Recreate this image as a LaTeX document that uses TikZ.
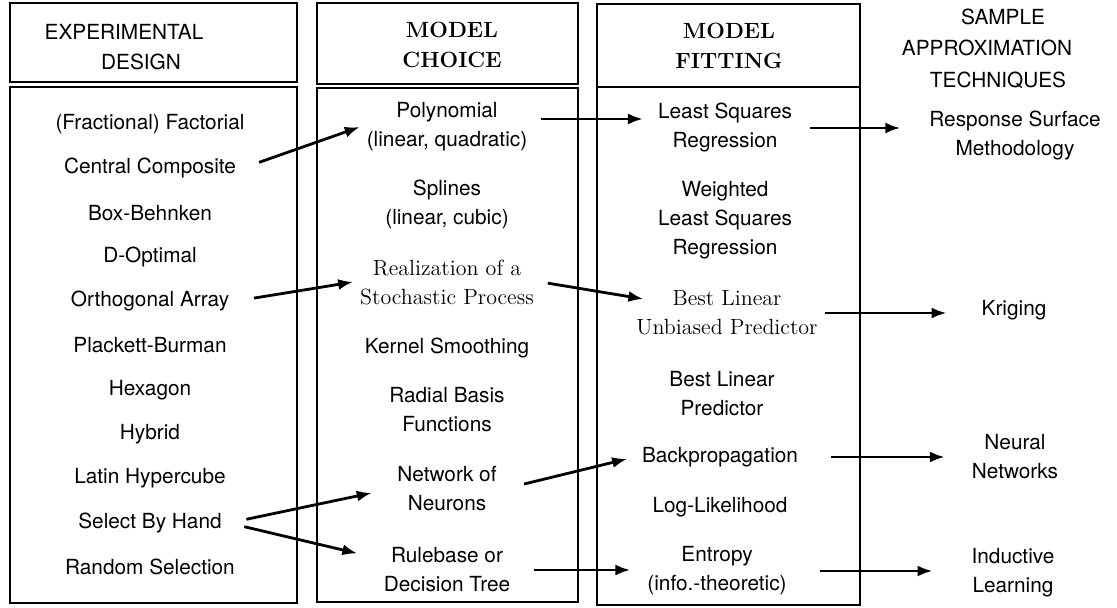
\documentclass[tikz,border=0pt]{standalone}
\usepackage{fontspec}
\setsansfont{TeX Gyre Heros}
\usetikzlibrary{arrows.meta}

\begin{document}
\begin{tikzpicture}[x=0.5pt,y=-0.5pt,
  box/.style={draw,line width=1.2pt},
  sflbl/.style={font=\sffamily\fontsize{10.4}{14.5}\selectfont,align=center},
  rmlbl/.style={font=\fontsize{11}{14.5}\selectfont,align=center},
  rmhead/.style={font=\bfseries\fontsize{11}{15}\selectfont,align=center},
  conn/.style={-{Latex[length=7.5pt,width=5.5pt]},line width=1.4pt}]
\useasboundingbox (0,0) rectangle (1117,608);
\draw[box] (10,3) rectangle (297,82);
\draw[box] (10,87) rectangle (297,603);
\draw[box] (317,3) rectangle (578,84);
\draw[box] (317,88) rectangle (578,602);
\draw[box] (597,4) rectangle (860,87);
\draw[box] (597,87) rectangle (860,605);
\node[sflbl] (hdexp) at (124,32) {EXPERIMENTAL};
\node[sflbl] (hddes) at (141,62) {DESIGN};
\node[rmhead] (hdchoice) at (452,45) {MODEL\\CHOICE};
\node[rmhead] (hdfit) at (729,46) {MODEL\\FITTING};
\node[sflbl] (hdsamp) at (1003,17) {SAMPLE};
\node[sflbl] (hdappr) at (987,48) {APPROXIMATION};
\node[sflbl] (hdtech) at (998,80) {TECHNIQUES};
\node[sflbl] (fracfact) at (150,124) {(Fractional) Factorial};
\node[sflbl] (cencomp) at (150,168) {Central Composite};
\node[sflbl] (boxbeh) at (150,213) {Box-Behnken};
\node[sflbl] (dopt) at (150,257) {D-Optimal};
\node[sflbl] (orth) at (150,301) {Orthogonal Array};
\node[sflbl] (plackett) at (150,345) {Plackett-Burman};
\node[sflbl] (hexagon) at (150,390) {Hexagon};
\node[sflbl] (hybrid) at (150,434) {Hybrid};
\node[sflbl] (latin) at (150,478) {Latin Hypercube};
\node[sflbl] (handsel) at (150,523) {Select By Hand};
\node[sflbl] (randsel) at (150,567) {Random Selection};
\node[sflbl] (poly) at (447,127) {Polynomial\\(linear, quadratic)};
\node[sflbl] (splines) at (447,204) {Splines\\(linear, cubic)};
\node[rmlbl] (realiz) at (447,282) {Realization of a\\Stochastic Process};
\node[sflbl] (kernel) at (447,348) {Kernel Smoothing};
\node[sflbl] (radial) at (447,410) {Radial Basis\\Functions};
\node[sflbl] (network) at (447,489) {Network of\\Neurons};
\node[sflbl] (rulebase) at (447,570) {Rulebase or\\Decision Tree};
\node[sflbl] (lsq) at (725,128) {Least Squares\\Regression};
\node[sflbl] (wlsq) at (725,220) {Weighted\\Least Squares\\Regression};
\node[rmlbl] (blup) at (727,313) {Best Linear\\Unbiased Predictor};
\node[sflbl] (blp) at (722,394) {Best Linear\\Predictor};
\node[sflbl] (backprop) at (720,457) {Backpropagation};
\node[sflbl] (loglik) at (720,507) {Log-Likelihood};
\node[sflbl] (entropy) at (717,571) {Entropy\\(info.-theoretic)};
\node[sflbl] (rsm) at (1015,136) {Response Surface\\Methodology};
\node[sflbl] (krig) at (1014,310) {Kriging};
\node[sflbl] (neural) at (1015,457) {Neural\\Networks};
\node[sflbl] (induct) at (1013,573) {Inductive\\Learning};
\draw[conn,shorten <=8.5pt] (cencomp.east) -- (poly.west);
\draw[conn,shorten <=9pt] (orth.east) -- (realiz.west);
\draw[conn,shorten <=3.5pt,shorten >=4pt] ([yshift=4pt]poly.east) -- ([yshift=4pt]poly.east -| lsq.west);
\draw[conn,shorten <=3.5pt] (realiz.east) -- ([yshift=7pt,xshift=7pt]blup.west);
\draw[conn,shorten <=5.5pt,shorten >=11pt] (lsq.east) -- (lsq.east -| rsm.west);
\draw[conn,shorten >=14pt] (blup.east) -- (blup.east -| krig.west);
\draw[conn,shorten <=9pt,shorten >=9.5pt] (handsel.east) -- (network.west);
\draw[conn,shorten <=8pt,shorten >=10pt] (handsel.east) -- ([yshift=6pt]rulebase.west);
\draw[conn,shorten <=10.5pt,shorten >=4pt] (network.east) -- (backprop.west);
\draw[conn,shorten <=13pt,shorten >=10pt] (backprop.east) -- (backprop.east -| neural.west);
\draw[conn,shorten <=8.5pt,shorten >=5pt] (rulebase.east) -- (rulebase.east -| entropy.west);
\draw[conn,shorten <=13pt,shorten >=16pt] (entropy.east) -- (entropy.east -| induct.west);
\end{tikzpicture}
\end{document}
